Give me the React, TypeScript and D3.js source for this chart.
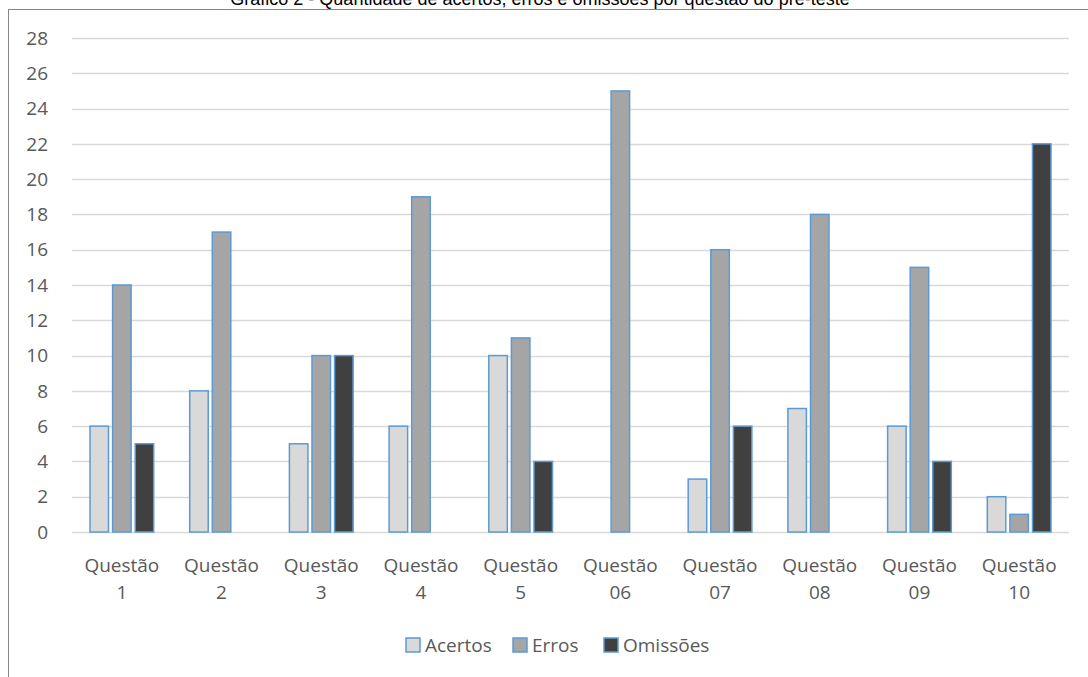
import * as d3 from 'd3';
import { useEffect, useRef } from 'react';

const questions = [
    ['Questão', '1'],
    ['Questão', '2'],
    ['Questão', '3'],
    ['Questão', '4'],
    ['Questão', '5'],
    ['Questão', '06'],
    ['Questão', '07'],
    ['Questão', '08'],
    ['Questão', '09'],
    ['Questão', '10'],
];
const seriesNames = ['Acertos', 'Erros', 'Omissões'];
const acertos = [6, 8, 5, 6, 10, null, 3, 7, 6, 2];
const erros = [14, 17, 10, 19, 11, 25, 16, 18, 15, 1];
const omissoes = [5, null, 10, null, 4, null, 6, null, 4, 22];
const yTicks = [0, 2, 4, 6, 8, 10, 12, 14, 16, 18, 20, 22, 24, 26, 28];
const colors = ['#d9d9d9', '#a5a5a5', '#404040'];
const title = 'Gráfico 2 - Quantidade de acertos, erros e omissões por questão do pré-teste';

export default function App() {
    const ref = useRef<SVGSVGElement>(null);

    const width = 1088,
        height = 677;
    const margin = { top: 38, right: 19, bottom: 145, left: 72 };

    useEffect(() => {
        const svg = d3.select(ref.current);
        svg.selectAll('*').remove();

        const font = "'Open Sans', 'Noto Sans', sans-serif";
        const labelColor = '#595959';
        const fs = 19;

        // outer frame
        svg.append('rect')
            .attr('x', 8.5)
            .attr('y', 9.5)
            .attr('width', 1100)
            .attr('height', 700)
            .attr('fill', 'none')
            .attr('stroke', '#868686')
            .attr('stroke-width', 1);

        svg.append('text')
            .attr('x', 540)
            .attr('y', 5)
            .attr('text-anchor', 'middle')
            .attr('font-family', "'Liberation Sans', Arial, sans-serif")
            .attr('font-size', 18)
            .attr('fill', '#000')
            .text(title);

        const keys = questions.map((_, i) => String(i));
        const x = d3
            .scaleBand()
            .domain(keys)
            .range([margin.left, width - margin.right])
            .paddingInner(0)
            .paddingOuter(0);
        const xs = d3
            .scaleBand()
            .domain(seriesNames)
            .range([18, x.bandwidth() - 18])
            .paddingInner(0.18);
        const y = d3
            .scaleLinear()
            .domain([0, 28])
            .range([height - margin.bottom, margin.top]);

        // grid
        const grid = svg.append('g');
        yTicks.forEach((t) => {
            grid.append('line')
                .attr('x1', margin.left)
                .attr('x2', width - margin.right)
                .attr('y1', Math.round(y(t)) + 0.5)
                .attr('y2', Math.round(y(t)) + 0.5)
                .attr('stroke', '#d9d9d9')
                .attr('stroke-width', 1.5);
            grid.append('text')
                .attr('x', 48)
                .attr('y', y(t))
                .attr('dy', '0.35em')
                .attr('text-anchor', 'end')
                .attr('font-family', font)
                .attr('font-size', fs)
                .attr('fill', labelColor)
                .text(t);
        });

        const series = [acertos, erros, omissoes];
        series.forEach((vals, si) => {
            svg.append('g')
                .selectAll('rect')
                .data(vals.map((v, i) => ({ v, i })).filter((d) => d.v != null))
                .join('rect')
                .attr('x', (d) => (x(String(d.i)) ?? 0) + (xs(seriesNames[si]) ?? 0))
                .attr('y', (d) => y(d.v as number))
                .attr('width', xs.bandwidth())
                .attr('height', (d) => y(0) - y(d.v as number))
                .attr('fill', colors[si])
                .attr('stroke', '#5b9bd5')
                .attr('stroke-width', 1.5);
        });

        // x labels
        const xl = svg.append('g');
        questions.forEach((q, i) => {
            const cx = (x(String(i)) ?? 0) + x.bandwidth() / 2;
            const t = xl
                .append('text')
                .attr('text-anchor', 'middle')
                .attr('font-family', font)
                .attr('font-size', fs)
                .attr('fill', labelColor);
            t.append('tspan').attr('x', cx).attr('y', 572).text(q[0]);
            t.append('tspan').attr('x', cx).attr('y', 599).text(q[1]);
        });

        // legend
        const legendX = [406, 513, 604];
        const lg = svg.append('g');
        seriesNames.forEach((name, i) => {
            lg.append('rect')
                .attr('x', legendX[i])
                .attr('y', 638)
                .attr('width', 14)
                .attr('height', 14)
                .attr('fill', colors[i])
                .attr('stroke', '#5b9bd5')
                .attr('stroke-width', 1.5);
            lg.append('text')
                .attr('x', legendX[i] + 19)
                .attr('y', 645)
                .attr('dy', '0.35em')
                .attr('font-family', font)
                .attr('font-size', fs)
                .attr('fill', labelColor)
                .text(name);
        });
    }, [height, margin.bottom, margin.left, margin.right, margin.top, width]);

    return (
        <svg
            ref={ref}
            width={width}
            height={height}
            style={{ position: 'absolute', left: 0, top: 0, background: '#fff' }}
        />
    );
}
